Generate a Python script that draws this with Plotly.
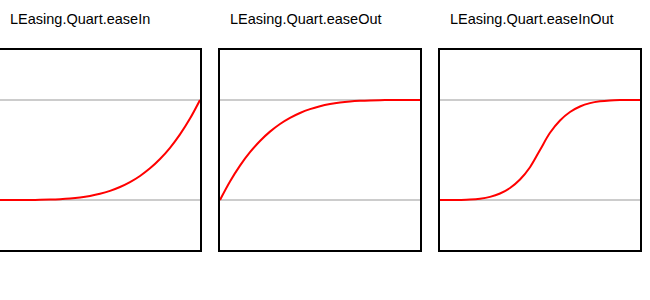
import plotly.graph_objects as go

titles = ["LEasing.Quart.easeIn", "LEasing.Quart.easeOut", "LEasing.Quart.easeInOut"]
x_vals = [0.0, 0.05, 0.1, 0.15, 0.2, 0.25, 0.3, 0.35, 0.4, 0.45, 0.5,
          0.55, 0.6, 0.65, 0.7, 0.75, 0.8, 0.85, 0.9, 0.95, 1.0]
ease_in = [0.0, 0.00001, 0.0001, 0.0005, 0.0016, 0.0039, 0.0081, 0.015, 0.0256, 0.041, 0.0625,
           0.0915, 0.1296, 0.1785, 0.2401, 0.3164, 0.4096, 0.522, 0.6561, 0.8145, 1.0]
ease_out = [0.0, 0.1855, 0.3439, 0.478, 0.5904, 0.6836, 0.7599, 0.8215, 0.8704, 0.9085, 0.9375,
            0.959, 0.9744, 0.985, 0.9919, 0.9961, 0.9984, 0.9995, 0.9999, 1.0, 1.0]
ease_in_out = [0.0, 0.00005, 0.0008, 0.004, 0.0128, 0.0313, 0.0648, 0.12, 0.2048, 0.328, 0.5,
               0.672, 0.7952, 0.88, 0.9352, 0.9687, 0.9872, 0.996, 0.9992, 0.99995, 1.0]
series = [ease_in, ease_out, ease_in_out]

W, H = 650, 300
panel_left = [0, 220, 440]
panel_w = 200
top, bottom = 50, 250

fig = go.Figure()
for i, (t, ys) in enumerate(zip(titles, series)):
    sfx = "" if i == 0 else str(i + 1)
    fig.add_trace(go.Scatter(x=x_vals, y=ys, mode="lines",
                             line=dict(color="#ff0000", width=2, shape="spline"),
                             xaxis="x" + sfx, yaxis="y" + sfx, hoverinfo="skip",
                             showlegend=False))
    l = panel_left[i]
    fig.layout["xaxis" + sfx] = dict(domain=[l / W, (l + panel_w) / W], range=[0, 1],
                                     showgrid=False, zeroline=False, showticklabels=False,
                                     ticks="", showline=True, mirror=True, linecolor="black",
                                     linewidth=2, anchor="y" + sfx, fixedrange=True)
    fig.layout["yaxis" + sfx] = dict(domain=[(H - bottom) / H, (H - top) / H], range=[-0.5, 1.5],
                                     tickvals=[0, 1], showgrid=True, gridcolor="#cccccc",
                                     gridwidth=2, zeroline=False, showticklabels=False,
                                     ticks="", showline=True, mirror=True, linecolor="black",
                                     linewidth=2, anchor="x" + sfx, fixedrange=True)
    fig.add_annotation(text=t, xref="paper", yref="paper", x=(l + 8) / W, y=(H - 19) / H,
                       xanchor="left", yanchor="middle", showarrow=False,
                       font=dict(family="Liberation Sans, Arial, sans-serif", size=14.5, color="black"))

fig.update_layout(width=W, height=H, margin=dict(l=0, r=0, t=0, b=0),
                  paper_bgcolor="white", plot_bgcolor="white")
fig.write_html("out.html")
